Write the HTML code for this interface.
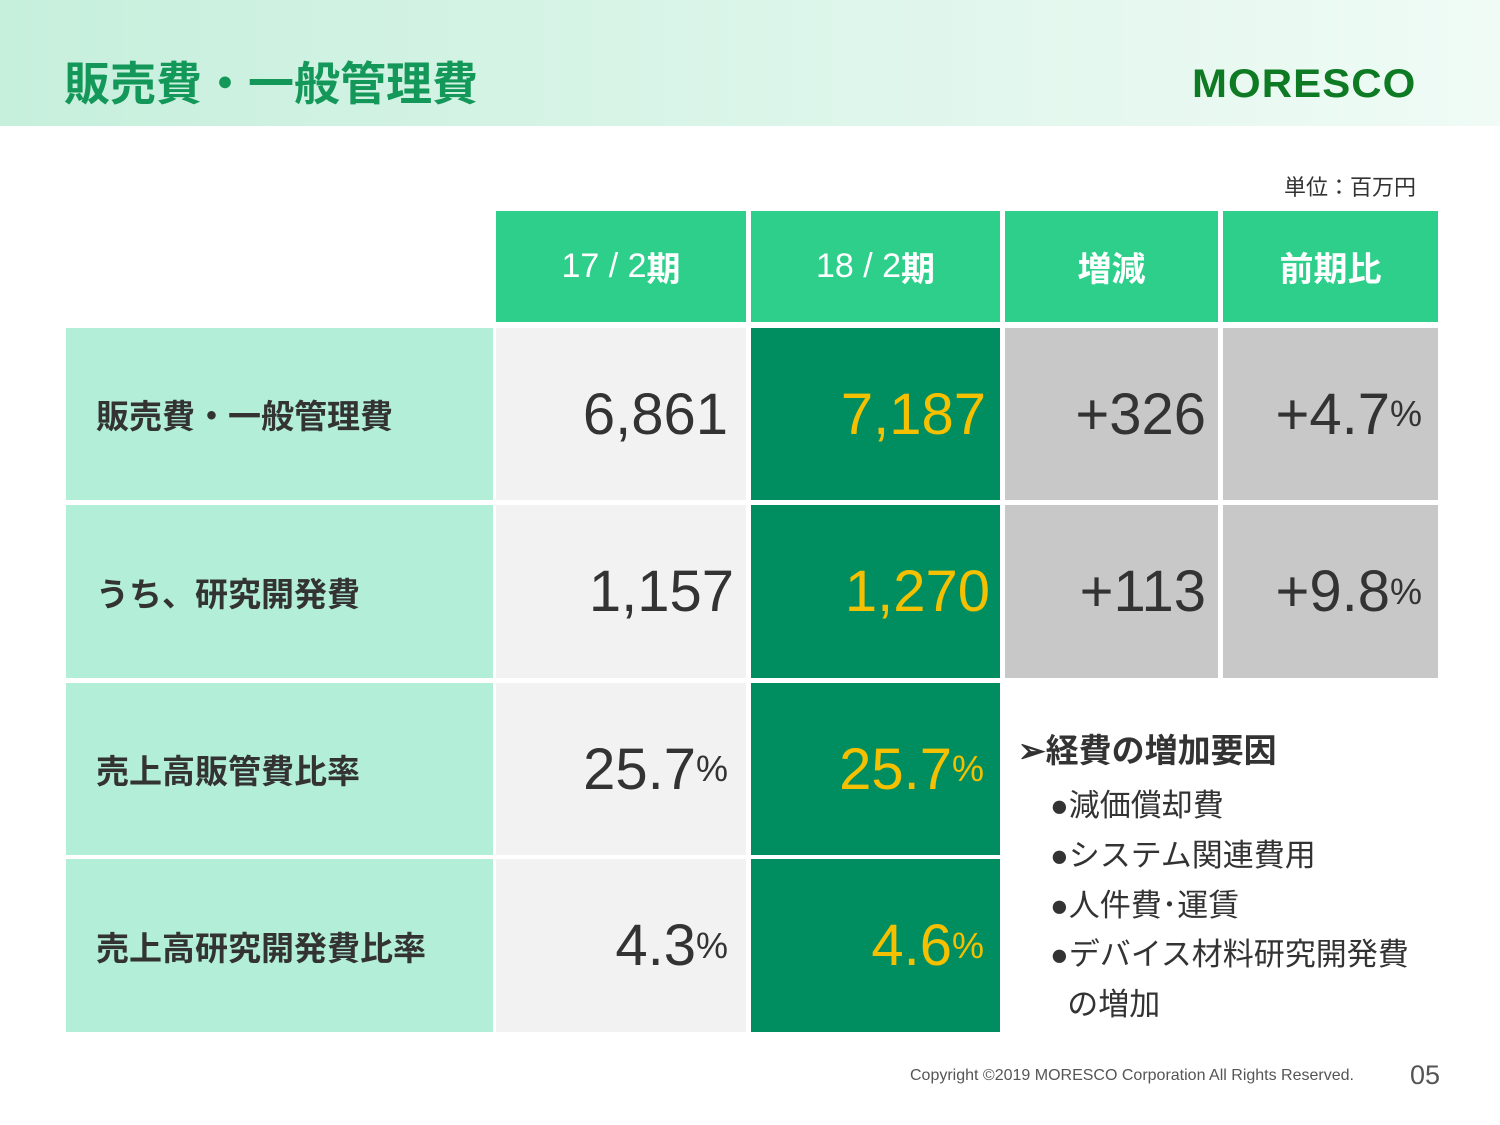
<!DOCTYPE html>
<html><head><meta charset="utf-8"><style>
body{margin:0;width:1500px;height:1125px;position:relative;background:#fff;font-family:"Liberation Sans","Noto Sans CJK JP",sans-serif;overflow:hidden}
.a{position:absolute;box-sizing:border-box}
.c{display:flex;align-items:center}
.lbl{background:#b2eed8;font-weight:bold;font-size:33px;color:#333;padding-left:30px}
.g1{background:#f2f2f2;justify-content:flex-end;padding-right:18px;color:#333;font-size:58px}
.g2{background:#008e60;justify-content:flex-end;padding-right:14px;color:#f5c000;font-size:58px}
.g3{background:#c8c8c8;justify-content:flex-end;padding-right:12px;color:#333;font-size:58px}
.hd{background:#2ecf8b;color:#fff;font-size:34px;justify-content:center}
.p{font-size:36px}
.b{font-size:31px;color:#333}
</style></head><body>
<div class="a" style="left:0;top:0;width:1500px;height:126px;background:linear-gradient(90deg,#c6efdc,#f0fbf6)"></div>
<div class="a" style="left:64px;top:48px;font-size:46px;font-weight:bold;color:#13985a">販売費・一般管理費</div>
<div class="a" style="left:1192px;top:62px;font-size:40px;font-weight:900;color:#0e7a23;letter-spacing:1px;transform:scaleX(1.05);transform-origin:left">MORESCO</div>
<div class="a" style="left:1284px;top:170px;font-size:22px;color:#333">単位：百万円</div>

<div class="a c hd" style="left:496px;top:211px;width:250px;height:111px">17 / 2<b>期</b></div>
<div class="a c hd" style="left:751px;top:211px;width:249px;height:111px">18 / 2<b>期</b></div>
<div class="a c hd" style="left:1005px;top:211px;width:213px;height:111px;font-weight:bold">増減</div>
<div class="a c hd" style="left:1223px;top:211px;width:215px;height:111px;font-weight:bold">前期比</div>

<div class="a c lbl" style="left:66px;top:328px;width:427px;height:172px">販売費・一般管理費</div>
<div class="a c g1" style="left:496px;top:328px;width:250px;height:172px">6,861</div>
<div class="a c g2" style="left:751px;top:328px;width:249px;height:172px">7,187</div>
<div class="a c g3" style="left:1005px;top:328px;width:213px;height:172px">+326</div>
<div class="a c g3" style="left:1223px;top:328px;width:215px;height:172px;padding-right:16px">+4.7<span class="p">%</span></div>

<div class="a c lbl" style="left:66px;top:505px;width:427px;height:173px">うち、研究開発費</div>
<div class="a c g1" style="left:496px;top:505px;width:250px;height:173px;padding-right:12px">1,157</div>
<div class="a c g2" style="left:751px;top:505px;width:249px;height:173px;padding-right:10px">1,270</div>
<div class="a c g3" style="left:1005px;top:505px;width:213px;height:173px">+113</div>
<div class="a c g3" style="left:1223px;top:505px;width:215px;height:173px;padding-right:16px">+9.8<span class="p">%</span></div>

<div class="a c lbl" style="left:66px;top:683px;width:427px;height:172px">売上高販管費比率</div>
<div class="a c g1" style="left:496px;top:683px;width:250px;height:172px">25.7<span class="p">%</span></div>
<div class="a c g2" style="left:751px;top:683px;width:249px;height:172px;padding-right:16px">25.7<span class="p">%</span></div>

<div class="a c lbl" style="left:66px;top:859px;width:427px;height:173px">売上高研究開発費比率</div>
<div class="a c g1" style="left:496px;top:859px;width:250px;height:173px">4.3<span class="p">%</span></div>
<div class="a c g2" style="left:751px;top:859px;width:249px;height:173px;padding-right:16px">4.6<span class="p">%</span></div>

<div class="a" style="left:1018px;top:724px;font-size:33px;font-weight:bold;color:#333">➢経費の増加要因</div>
<div class="a b" style="left:1050px;top:780px">●減価償却費</div>
<div class="a b" style="left:1050px;top:830px">●システム関連費用</div>
<div class="a b" style="left:1050px;top:880px">●人件費･運賃</div>
<div class="a b" style="left:1050px;top:930px;line-height:50px">●デバイス材料研究開発費<br>&nbsp;&nbsp;の増加</div>

<div class="a" style="left:910px;top:1067px;font-size:16px;color:#555">Copyright ©2019 MORESCO Corporation All Rights Reserved.</div>
<div class="a" style="left:1410px;top:1060px;font-size:27px;color:#555">05</div>
</body></html>
